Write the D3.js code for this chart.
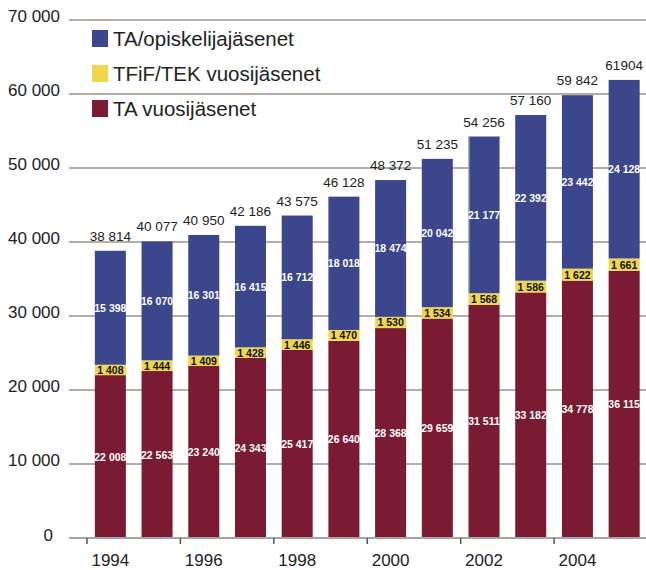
<!DOCTYPE html>
<html>
<head>
<meta charset="utf-8">
<script src="https://cdn.jsdelivr.net/npm/d3@7"></script>
<style>
  body { margin: 0; background: #fff; }
  text { font-family: "Liberation Sans", Arial, sans-serif; }
</style>
</head>
<body>
<div class="chart"></div>
<script>
// Data
const years = ["1994","1995","1996","1997","1998","1999","2000","2001","2002","2003","2004","2005"];
const taVuosi = [22008, 22563, 23240, 24343, 25417, 26640, 28368, 29659, 31511, 33182, 34778, 36115];
const tekVuosi = [1408, 1444, 1409, 1428, 1446, 1470, 1530, 1534, 1568, 1586, 1622, 1661];
const taOpisk = [15398, 16070, 16301, 16415, 16712, 18018, 18474, 20042, 21177, 22392, 23442, 24128];
const totalLabels = ["38 814","40 077","40 950","42 186","43 575","46 128","48 372","51 235","54 256","57 160","59 842","61904"];
const yTicks = [0, 10000, 20000, 30000, 40000, 50000, 60000, 70000];
const xTickYears = ["1994","1996","1998","2000","2002","2004"];

const seriesNames = ["TA vuosijäsenet", "TFiF/TEK vuosijäsenet", "TA/opiskelijajäsenet"];
const colors = ["#7a1a33", "#efd64e", "#3b468c"];

const W = 646, H = 570;
const svg = d3.select(".chart").append("svg")
    .attr("width", W)
    .attr("height", H);

// scales
const x = d3.scaleBand()
    .domain(years)
    .range([87, 647.5])
    .paddingInner(0.336)
    .paddingOuter(0.168);

const y = d3.scaleLinear()
    .domain([0, 70000])
    .range([538, 20]);

const fmt = v => d3.format(",")(v).replace(/,/g, " ");

// gridlines
svg.append("g")
    .selectAll("line")
    .data(yTicks)
    .enter()
    .append("line")
        .attr("x1", 69)
        .attr("x2", W)
        .attr("y1", d => y(d))
        .attr("y2", d => y(d))
        .attr("stroke", "#b2aea5")
        .attr("stroke-width", 2);

// y tick labels
svg.append("g")
    .selectAll("text")
    .data(yTicks)
    .enter()
    .append("text")
        .attr("x", d => d === 0 ? 53 : 60)
        .attr("y", d => y(d) + (d === 0 ? 3 : 2))
        .attr("text-anchor", "end")
        .style("font-size", "17px")
        .style("fill", "#222")
        .text(d => d === 0 ? "0" : fmt(d));

// stack data
const table = years.map((yr, i) => ({year: yr, a: taVuosi[i], b: tekVuosi[i], c: taOpisk[i]}));
const stack = d3.stack().keys(["a", "b", "c"])(table);

const layers = svg.append("g")
    .selectAll("g")
    .data(stack)
    .enter()
    .append("g")
        .attr("fill", (d, i) => colors[i]);

layers.selectAll("rect")
    .data(d => d)
    .enter()
    .append("rect")
        .attr("x", d => x(d.data.year))
        .attr("y", d => y(d[1]))
        .attr("width", x.bandwidth())
        .attr("height", d => y(d[0]) - y(d[1]));

// thin green edge seen on the 2002 blue segment
const s2002 = stack[2][years.indexOf("2002")];
svg.append("line")
    .attr("x1", x("2002") + 0.5)
    .attr("x2", x("2002") + 0.5)
    .attr("y1", y(s2002[1]))
    .attr("y2", y(s2002[0]))
    .attr("stroke", "#9ccc8e")
    .attr("stroke-width", 1);

// segment labels
const labelColors = ["#fff", "#111", "#fff"];
stack.forEach((layer, k) => {
    svg.append("g")
        .selectAll("text")
        .data(layer)
        .enter()
        .append("text")
            .attr("x", d => x(d.data.year) + x.bandwidth() / 2)
            .attr("y", d => (y(d[0]) + y(d[1])) / 2 + 4)
            .attr("text-anchor", "middle")
            .style("font-size", "10.5px")
            .style("font-weight", "bold")
            .style("fill", labelColors[k])
            .text(d => fmt(d[1] - d[0]));
});

// totals
svg.append("g")
    .selectAll("text")
    .data(stack[2])
    .enter()
    .append("text")
        .attr("x", d => x(d.data.year) + x.bandwidth() / 2)
        .attr("y", d => y(d[1]) - 10)
        .attr("text-anchor", "middle")
        .style("font-size", "13.5px")
        .style("fill", "#222")
        .text((d, i) => totalLabels[i]);

// x axis
svg.append("line")
    .attr("x1", 69)
    .attr("x2", W)
    .attr("y1", y(0))
    .attr("y2", y(0))
    .attr("stroke", "#a9a59c")
    .attr("stroke-width", 2);

const gap = x.step() * x.paddingInner() / 2;
svg.append("g")
    .selectAll("line")
    .data(xTickYears)
    .enter()
    .append("line")
        .attr("x1", d => x(d) - gap)
        .attr("x2", d => x(d) - gap)
        .attr("y1", y(0))
        .attr("y2", y(0) + 6)
        .attr("stroke", "#555")
        .attr("stroke-width", 1.5);

svg.append("g")
    .selectAll("text")
    .data(xTickYears)
    .enter()
    .append("text")
        .attr("x", d => x(d) + x.bandwidth() / 2)
        .attr("y", 566)
        .attr("text-anchor", "middle")
        .style("font-size", "17px")
        .style("fill", "#222")
        .text(d => d);

// legend (top to bottom: blue, yellow, maroon)
const legendOrder = [2, 1, 0];
const legend = svg.append("g")
    .selectAll("g")
    .data(legendOrder)
    .enter()
    .append("g")
        .attr("transform", (d, i) => "translate(92," + (30 + i * 35) + ")");

legend.append("rect")
    .attr("width", 16)
    .attr("height", 17)
    .attr("fill", d => colors[d]);

legend.append("text")
    .attr("x", 21)
    .attr("y", 16)
    .style("font-size", "20.5px")
    .style("fill", "#222")
    .text(d => seriesNames[d]);
</script>
</body>
</html>
